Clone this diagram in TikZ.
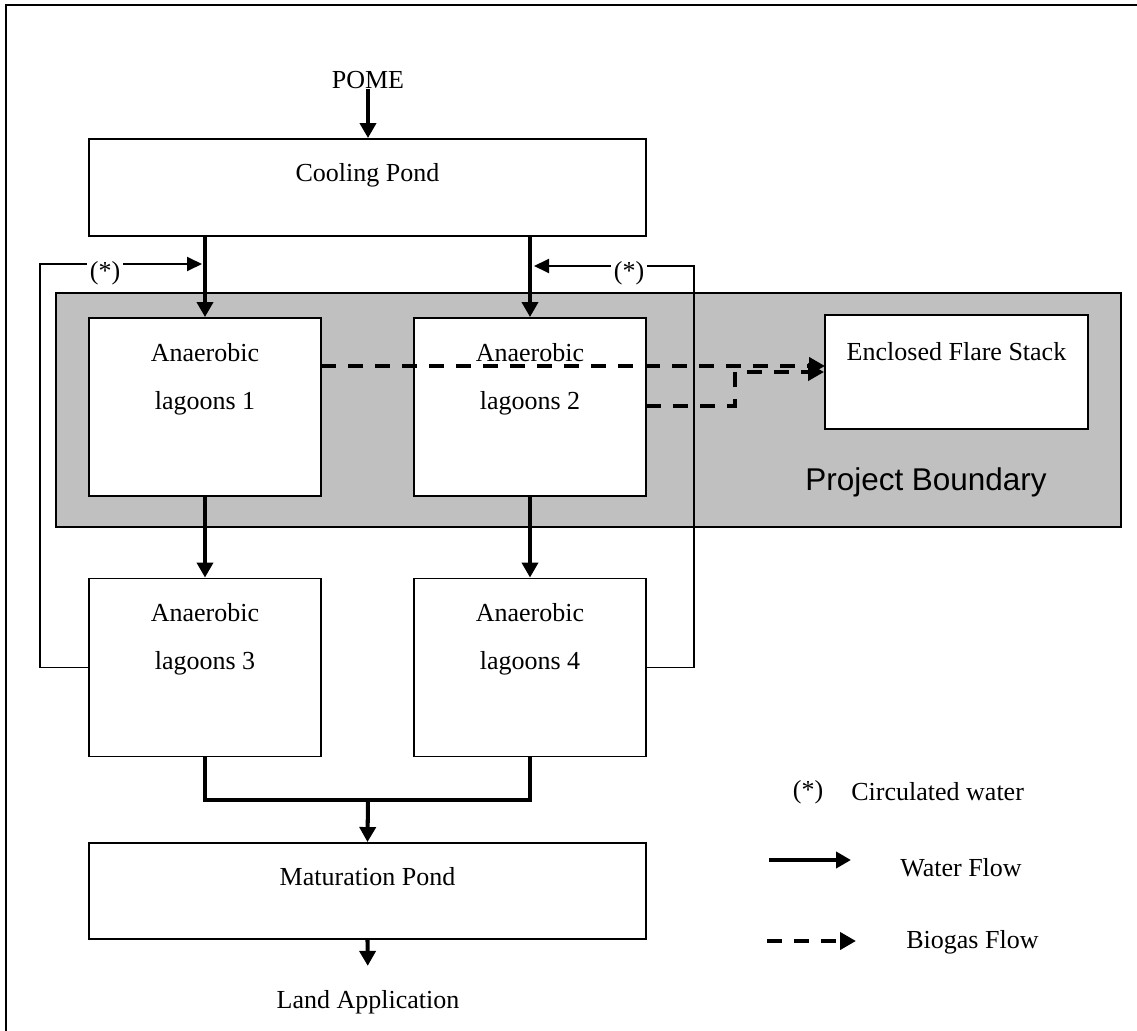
\documentclass[tikz,border=0pt]{standalone}
\usepackage{fontspec}
\setmainfont{Liberation Serif}
\newfontfamily\boundfont{Liberation Sans}
\usetikzlibrary{arrows.meta}
\definecolor{boundgray}{RGB}{192,192,192}
\tikzset{
	txt/.style={inner sep=0pt},
	pond/.style={draw, line width=1.1pt, fill=white, inner sep=0pt},
	toptext/.style={anchor=north, inner sep=0pt, align=center, font=\fontsize{14.8}{27.2}\selectfont},
	lagoon/.style={pond, minimum width=4.64cm, minimum height=3.56cm, label={[toptext,yshift=-0.52cm]north:{Anaerobic\\lagoons #1}}},
	water/.style={line width=2.3pt, -{Triangle[length=0.3cm,width=0.32cm]}},
	circ/.style={line width=1.1pt, -{Triangle[length=0.3cm,width=0.28cm]}},
	gas/.style={line width=2.3pt, dash pattern=on 0.3cm off 0.24cm, -{Triangle[length=0.32cm,width=0.34cm]}},
	star/.style={fill=white, inner sep=1.5pt}
}
\begin{document}
\begin{tikzpicture}[x=0.02cm,y=-0.02cm,line join=miter,font=\fontsize{14.8}{27.2}\selectfont]
	\useasboundingbox (0,0) rectangle (1137,1031);
	\draw [line width=1.1pt] (6,1031) |- (1137,5);
	\node [draw, line width=1.1pt, fill=boundgray, inner sep=0pt, minimum width=21.3cm, minimum height=4.68cm] (bound) at (588.5,410) {};
	\node [txt, font=\boundfont\fontsize{17.9}{20}\selectfont] (pbtext) at (926,482) {Project Boundary};
	\node [txt] (pome) at (368,80) {POME};
	\node [pond, minimum width=11.14cm, minimum height=1.94cm, label={[toptext,yshift=-0.5cm]north:Cooling Pond}] (cool) at (367.5,187.5) {};
	\node [lagoon=1] (L1) at (205,407) {};
	\node [lagoon=2] (L2) at (530,407) {};
	\node [lagoon=3] (L3) at (205,667.5) {};
	\node [lagoon=4] (L4) at (530,667.5) {};
	\node [pond, minimum width=5.26cm, minimum height=2.28cm, label={[toptext,yshift=-0.57cm]north:Enclosed Flare Stack}] (flare) at (956.5,372) {};
	\node [pond, minimum width=11.14cm, minimum height=1.92cm, label={[toptext,yshift=-0.5cm]north:Maturation Pond}] (mat) at (367.5,891) {};
	\node [txt] (land) at (368,1002) {Land Application};
	\coordinate (ret1) at (202,264);
	\coordinate (ret2) at (534,266);
	\coordinate (mj) at (368,800);
	\draw [water] (pome.south) -- (pome.south |- cool.north);
	\draw [water] (L1.north |- cool.south) -- (L1.north);
	\draw [water] (L2.north |- cool.south) -- (L2.north);
	\draw [water] (L1.south) -- (L3.north);
	\draw [water] (L2.south) -- (L4.north);
	\draw [line width=2.3pt] (L3.south) |- (L4.south |- mj) -- (L4.south);
	\draw [water] (mj) -- (mat.north);
	\draw [water, shorten >=0.48cm] (mat.south) -- (land.north);
	\draw [circ] (L3.west) -- ++(-48,0) |- (ret1);
	\draw [circ] (L4.east) -- ++(47,0) |- (ret2);
	\node [star] (star1) at (105,273) {(*)};
	\node [star] (star2) at (629,273) {(*)};
	\coordinate (g1) at (321,366);
	\coordinate (g2) at (825,366);
	\coordinate (g3) at (646,406);
	\coordinate (g4) at (735,372);
	\draw [gas] (g1) -- (g2);
	\draw [gas] (g3) -| (g4) -- (flare.west);
	\node [txt] (lgstar) at (808,792) {(*)};
	\node [txt, anchor=west] (lgcirc) at (851,792) {Circulated water};
	\coordinate (lw1) at (769,860);
	\coordinate (lw2) at (851,860);
	\draw [water] (lw1) -- (lw2);
	\node [txt, anchor=west] (lgwater) at (900,868) {Water Flow};
	\coordinate (lb1) at (767,941);
	\coordinate (lb2) at (856,941);
	\draw [gas] (lb1) -- (lb2);
	\node [txt, anchor=west] (lggas) at (906,942) {Biogas Flow};
\end{tikzpicture}
\end{document}
